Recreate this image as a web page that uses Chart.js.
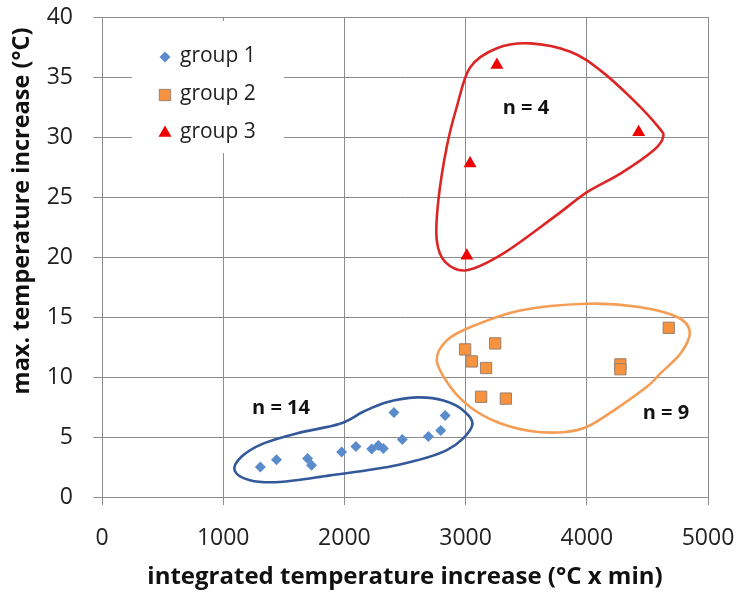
<!DOCTYPE html>
<html>
<head>
<meta charset="utf-8">
<script src="https://cdn.jsdelivr.net/npm/chart.js@4"></script>
<style>
    html, body { margin: 0; padding: 0; background: #fff; }
    #wrap { width: 742px; height: 593px; }
</style>
</head>
<body>
<div id="wrap"><canvas id="chart" width="742" height="593"></canvas></div>
<script>
// integrated temperature increase (°C x min) / max. temperature increase (°C)
const group1X = [1306, 1440, 1696, 1729, 1977, 2095, 2225, 2280, 2321, 2409, 2478, 2693, 2795, 2831]
const group1Y = [2.5, 3.1, 3.2, 2.65, 3.75, 4.2, 4.0, 4.3, 4.05, 7.05, 4.8, 5.05, 5.55, 6.8]
const group2X = [2996, 3244, 3051, 3169, 3128, 3332, 4277, 4277, 4676]
const group2Y = [12.3, 12.8, 11.3, 10.75, 8.35, 8.2, 11.05, 10.65, 14.1]
const group3X = [3258, 4428, 3037, 3010]
const group3Y = [36.0, 30.4, 27.8, 20.1]

const groupNames = ['group 1', 'group 2', 'group 3']
const xTicks = [0, 1000, 2000, 3000, 4000, 5000]
const yTicks = [0, 5, 10, 15, 20, 25, 30, 35, 40]

// hand drawn hulls round each group, in axis units
const hull1X = [1095, 1219, 1467, 1880, 2431, 2845, 3051, 2982, 2817, 2597, 2349, 2155, 1963, 1605, 1329, 1150]
const hull1Y = [2.2, 1.4, 1.25, 1.8, 2.65, 3.9, 5.85, 7.2, 8.05, 8.3, 7.9, 7.1, 6.1, 5.3, 4.45, 3.35]
const hull2X = [2762, 2845, 3037, 3450, 4002, 4415, 4746, 4850, 4773, 4607, 4498, 4221, 4002, 3808, 3533, 3258, 3037, 2872]
const hull2Y = [11.4, 13.05, 14.15, 15.55, 16.1, 15.85, 15.0, 13.75, 11.95, 10.3, 9.2, 7.2, 5.85, 5.4, 5.5, 6.25, 7.5, 9.2]
const hull3X = [3533, 3864, 4112, 4387, 4593, 4630, 4552, 4277, 4002, 3726, 3312, 3010, 2831, 2762, 2775, 2845, 2927, 3037, 3258]
const hull3Y = [37.8, 37.1, 35.55, 33.05, 30.8, 30.0, 28.9, 26.95, 25.4, 23.3, 20.3, 18.9, 19.6, 21.4, 24.7, 29.2, 32.5, 35.8, 37.4]

// where the "n = .." counts sit, in axis units
const countX = [1477, 4653, 3498]
const countY = [7.4, 7.0, 32.4]

const fontFamily = '"Open Sans", Lato, sans-serif'
const gridColor = '#8c8c8c'
const hullColors = ['#34599a', '#f59c55', '#dc2626']

const toPoints = (xs, ys) => xs.map((x, i) => ({ x: x, y: ys[i] }))

const datasets = [{
    label: groupNames[0],
    data: toPoints(group1X, group1Y),
    pointStyle: 'rectRot',
    pointRadius: 5.5,
    backgroundColor: '#5a8ccb',
    borderColor: '#5a8ccb',
    borderWidth: 0
}, {
    label: groupNames[1],
    data: toPoints(group2X, group2Y),
    pointStyle: 'rect',
    pointRadius: 8,
    backgroundColor: '#f7923f',
    borderColor: '#9a8270',
    borderWidth: 1
}, {
    label: groupNames[2],
    data: toPoints(group3X, group3Y),
    pointStyle: 'triangle',
    pointRadius: 7.5,
    backgroundColor: '#ee0000',
    borderColor: '#ee0000',
    borderWidth: 0
}]

// closed cardinal spline through the hull points
const drawHull = (ctx, pts) => {
    const n = pts.length
    ctx.beginPath()
    ctx.moveTo(pts[0].x, pts[0].y)
    for (let i = 0; i < n; i++) {
        const p0 = pts[(i - 1 + n) % n]
        const p1 = pts[i]
        const p2 = pts[(i + 1) % n]
        const p3 = pts[(i + 2) % n]
        ctx.bezierCurveTo(
            p1.x + (p2.x - p0.x) / 6, p1.y + (p2.y - p0.y) / 6,
            p2.x - (p3.x - p1.x) / 6, p2.y - (p3.y - p1.y) / 6,
            p2.x, p2.y)
    }
    ctx.closePath()
    ctx.stroke()
}

const extras = {
    id: 'extras',
    afterDatasetsDraw(chart) {
        const ctx = chart.ctx
        const xs = chart.scales.x
        const ys = chart.scales.y
        const hulls = [[hull1X, hull1Y], [hull2X, hull2Y], [hull3X, hull3Y]]
        const counts = [group1X.length, group2X.length, group3X.length]

        ctx.save()
        ctx.lineWidth = 2.6
        ctx.lineJoin = 'round'
        hulls.forEach((h, i) => {
            ctx.strokeStyle = hullColors[i]
            drawHull(ctx, h[0].map((x, k) => ({ x: xs.getPixelForValue(x), y: ys.getPixelForValue(h[1][k]) })))
        })

        ctx.fillStyle = '#111'
        ctx.font = `bold 20px ${fontFamily}`
        ctx.textAlign = 'center'
        ctx.textBaseline = 'middle'
        counts.forEach((c, i) => {
            ctx.fillText(`n = ${c}`, xs.getPixelForValue(countX[i]), ys.getPixelForValue(countY[i]))
        })

        // legend box inside the plot
        ctx.fillStyle = '#fff'
        ctx.fillRect(132, 21, 152, 132)
        ctx.font = `21px ${fontFamily}`
        ctx.textAlign = 'left'
        chart.data.datasets.forEach((ds, i) => {
            const y = 57 + i * 38
            ctx.fillStyle = ds.backgroundColor
            ctx.strokeStyle = ds.borderColor
            ctx.lineWidth = ds.borderWidth
            Chart.helpers.drawPoint(ctx, {
                pointStyle: ds.pointStyle,
                radius: ds.pointRadius,
                borderWidth: ds.borderWidth
            }, 165, y)
            ctx.fillStyle = '#222'
            ctx.fillText(ds.label, 180, y - 1)
        })

        // axis titles
        ctx.fillStyle = '#111'
        ctx.font = `bold 24px ${fontFamily}`
        ctx.textAlign = 'center'
        ctx.fillText('integrated temperature increase (°C x min)', (chart.chartArea.left + chart.chartArea.right) / 2, 577)
        ctx.font = `bold 23.5px ${fontFamily}`
        ctx.translate(22, 211)
        ctx.rotate(-Math.PI / 2)
        ctx.fillText('max. temperature increase (°C)', 0, 0)
        ctx.restore()
    }
}

new Chart(document.getElementById('chart'), {
    type: 'scatter',
    data: { datasets: datasets },
    options: {
        responsive: false,
        animation: false,
        events: [],
        layout: { padding: { top: 17, right: 34, left: 0, bottom: 0 } },
        plugins: {
            legend: { display: false },
            tooltip: { enabled: false }
        },
        scales: {
            x: {
                min: 0,
                max: 5000,
                afterBuildTicks: s => { s.ticks = xTicks.map(v => ({ value: v })) },
                afterFit: s => {
                    s.height = 96
                    s.paddingLeft = 0
                    s.paddingRight = 0
                },
                grid: { color: gridColor, tickLength: 8, lineWidth: 1 },
                border: { color: gridColor },
                ticks: {
                    color: '#222',
                    padding: 20,
                    maxRotation: 0,
                    callback: v => String(v),
                    font: { family: fontFamily, size: 23 }
                }
            },
            y: {
                min: 0,
                max: 40,
                afterBuildTicks: s => { s.ticks = yTicks.map(v => ({ value: v })) },
                afterFit: s => {
                    s.width = 102
                    s.paddingTop = 0
                    s.paddingBottom = 0
                },
                grid: { color: gridColor, tickLength: 9, lineWidth: 1 },
                border: { color: gridColor },
                ticks: {
                    color: '#222',
                    padding: 20,
                    font: { family: fontFamily, size: 23 }
                }
            }
        }
    },
    plugins: [extras]
})
</script>
</body>
</html>
